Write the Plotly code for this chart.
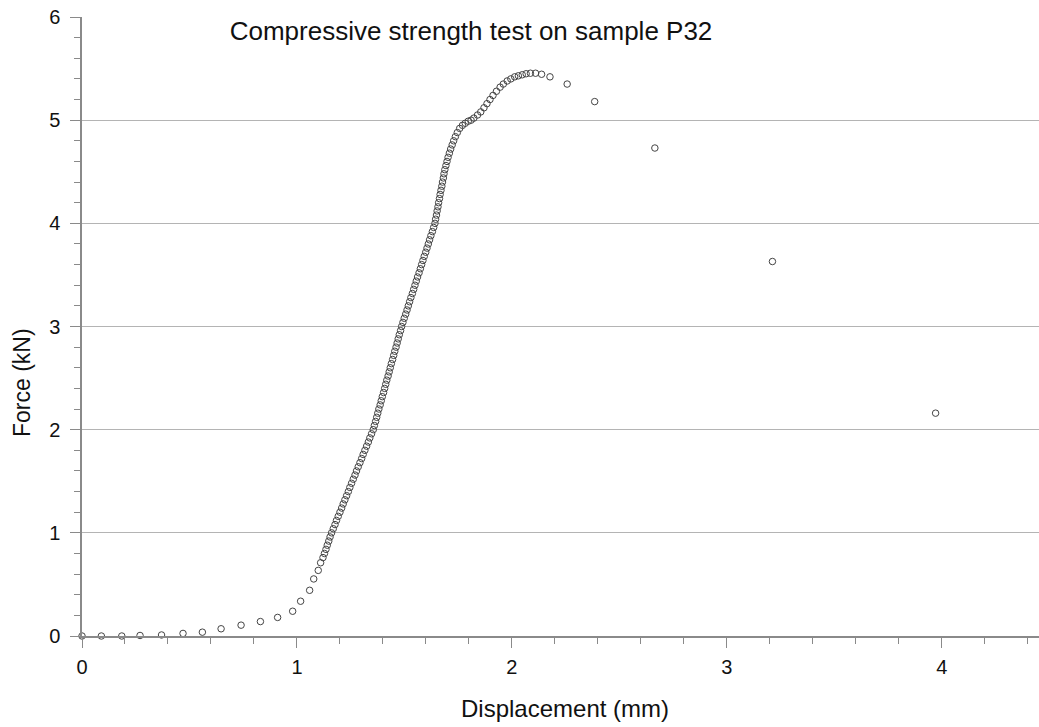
import plotly.graph_objects as go

# Sparse low-load points (displacement mm, force kN)
disp_low = [0.0, 0.09, 0.185, 0.27, 0.37, 0.47, 0.56, 0.647, 0.74, 0.83, 0.91, 0.98,
            1.017, 1.059, 1.078, 1.099, 1.11]
force_low = [0.0, 0.0, 0.0, 0.005, 0.01, 0.025, 0.037, 0.07, 0.105, 0.14, 0.18, 0.24,
             0.337, 0.443, 0.553, 0.636, 0.71]

# Dense loading branch
disp_mid = [1.121, 1.128, 1.135, 1.141, 1.148, 1.154, 1.161,
            1.169, 1.177, 1.184, 1.192, 1.200, 1.208, 1.215, 1.223, 1.231, 1.239,
            1.246, 1.254, 1.262, 1.270, 1.277, 1.285, 1.293, 1.301, 1.308, 1.316,
            1.324, 1.332, 1.339, 1.347, 1.355,
            1.360, 1.366, 1.371, 1.376, 1.381, 1.387, 1.392, 1.397, 1.403, 1.408,
            1.413, 1.418, 1.424, 1.429, 1.434, 1.439, 1.445, 1.450, 1.455, 1.461,
            1.466, 1.471, 1.476, 1.482, 1.487,
            1.493, 1.499, 1.506, 1.512, 1.518, 1.524, 1.530, 1.537, 1.543, 1.549,
            1.555, 1.561, 1.568, 1.574, 1.580, 1.586, 1.592, 1.599, 1.605, 1.611,
            1.617, 1.623, 1.630, 1.636, 1.642,
            1.645, 1.649, 1.652, 1.656, 1.659, 1.663, 1.666, 1.670, 1.674, 1.677,
            1.681, 1.684, 1.688, 1.693, 1.698, 1.703, 1.709, 1.715, 1.722, 1.729,
            1.737, 1.746]
force_mid = [0.76, 0.80, 0.84, 0.88, 0.92, 0.96, 1.00,
             1.04, 1.08, 1.12, 1.16, 1.20, 1.24, 1.28, 1.32, 1.36, 1.40,
             1.44, 1.48, 1.52, 1.56, 1.60, 1.64, 1.68, 1.72, 1.76, 1.80,
             1.84, 1.88, 1.92, 1.96, 2.00,
             2.04, 2.08, 2.12, 2.16, 2.20, 2.24, 2.28, 2.32, 2.36, 2.40,
             2.44, 2.48, 2.52, 2.56, 2.60, 2.64, 2.68, 2.72, 2.76, 2.80,
             2.84, 2.88, 2.92, 2.96, 3.00,
             3.04, 3.08, 3.12, 3.16, 3.20, 3.24, 3.28, 3.32, 3.36, 3.40,
             3.44, 3.48, 3.52, 3.56, 3.60, 3.64, 3.68, 3.72, 3.76, 3.80,
             3.84, 3.88, 3.92, 3.96, 4.00,
             4.04, 4.08, 4.12, 4.16, 4.20, 4.24, 4.28, 4.32, 4.36, 4.40,
             4.44, 4.48, 4.52, 4.56, 4.60, 4.64, 4.68, 4.72, 4.76, 4.80,
             4.84, 4.88]

# Peak and post-peak
disp_top = [1.757, 1.770, 1.783, 1.797, 1.810, 1.823, 1.840, 1.855, 1.870, 1.884,
            1.898, 1.912, 1.928, 1.945, 1.960, 1.978, 1.995, 2.013, 2.030, 2.048,
            2.066, 2.086, 2.110, 2.138, 2.177, 2.257, 2.385, 2.665, 3.212, 3.971]
force_top = [4.92, 4.95, 4.97, 4.99, 5.00, 5.02, 5.05, 5.08, 5.12, 5.16,
             5.20, 5.24, 5.28, 5.32, 5.35, 5.38, 5.40, 5.42, 5.43, 5.44,
             5.45, 5.455, 5.455, 5.445, 5.42, 5.35, 5.18, 4.73, 3.63, 2.16]

displacement = disp_low + disp_mid + disp_top
force = force_low + force_mid + force_top

fig = go.Figure()
fig.add_trace(go.Scatter(
    x=displacement, y=force, mode="markers",
    marker=dict(symbol="circle-open", size=6.5, color="#444444", line=dict(width=1)),
    showlegend=False, cliponaxis=False,
))

font_family = "Liberation Sans, Arial, sans-serif"
axis_col = "#8a8a8a"
W, H = 1039, 727

fig.update_layout(
    width=W, height=H,
    margin=dict(l=82, r=0, t=17, b=91),
    paper_bgcolor="white", plot_bgcolor="white",
    font=dict(family=font_family, size=20, color="#111111"),
    title=dict(text="Compressive strength test on sample P32",
               x=471 / W, xref="container", xanchor="center",
               y=1 - 31 / H, yref="container", yanchor="middle",
               font=dict(size=26, family=font_family, color="#111111")),
    xaxis=dict(
        range=[0, 4.452], tickvals=[0, 1, 2, 3, 4], ticktext=["0", "1", "2", "3", "4"],
        showgrid=False, zeroline=False,
        showline=True, linecolor=axis_col, linewidth=1.5,
        ticks="outside", ticklen=10, tickcolor=axis_col, tickwidth=1,
        ticklabelstandoff=2,
        tickfont=dict(size=20),
        minor=dict(dtick=0.2, ticks="outside", ticklen=6, tickcolor=axis_col, showgrid=False),
    ),
    yaxis=dict(
        range=[0, 6], tickvals=[0, 1, 2, 3, 4, 5, 6], ticktext=["0", "1", "2", "3", "4", "5", "6"],
        showgrid=True, gridcolor="#b4b4b4", gridwidth=1, zeroline=False,
        showline=True, linecolor=axis_col, linewidth=1.5,
        ticks="outside", ticklen=10, tickcolor=axis_col, tickwidth=1,
        ticklabelstandoff=6,
        tickfont=dict(size=20),
        minor=dict(dtick=0.2, ticks="outside", ticklen=6, tickcolor=axis_col, showgrid=False),
    ),
    annotations=[
        dict(text="Displacement (mm)", xref="paper", yref="paper",
             x=(565 - 82) / (W - 82), y=-(708 - 636) / (636 - 17),
             xanchor="center", yanchor="middle", showarrow=False,
             font=dict(size=24, family=font_family, color="#111111")),
        dict(text="Force (kN)", xref="paper", yref="paper", textangle=-90,
             x=-(82 - 22) / (W - 82), y=(636 - 383) / (636 - 17),
             xanchor="center", yanchor="middle", showarrow=False,
             font=dict(size=23, family=font_family, color="#111111")),
    ],
)

fig.write_html("out.html")
